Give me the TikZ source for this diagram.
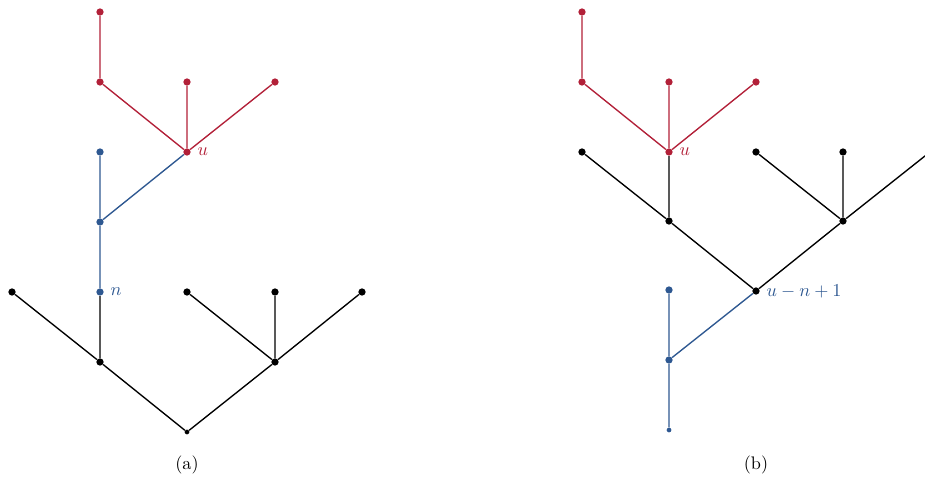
\documentclass[tikz,border=0pt]{standalone}
\definecolor{tred}{RGB}{178,32,56}
\definecolor{tblue}{RGB}{46,88,145}
\begin{document}
\begin{tikzpicture}[x=0.55pt,y=-0.55pt,
  edge/.style={line width=0.75pt},
  dot/.style={circle,fill,inner sep=0pt,minimum size=4pt},
  sdot/.style={circle,fill,inner sep=0pt,minimum size=2.6pt},
  lab/.style={anchor=west,inner sep=0pt,xshift=3.5pt}]
\useasboundingbox (0,0) rectangle (925,477);
\begin{scope}
\clip (0,0) rectangle (925,477);
% ---------- (a) ----------
\node[sdot] (r) at (187,432) {};
\node[dot] (a1) at (100,362) {};
\node[dot] (a2) at (275,362) {};
\node[dot] (l1) at (12,292) {};
\node[dot,tblue] (n) at (100,292) {};
\node[dot] (l3) at (187,292) {};
\node[dot] (l4) at (275,292) {};
\node[dot] (l5) at (362,292) {};
\node[dot,tblue] (b1) at (100,222) {};
\node[dot,tblue] (b2) at (100,152) {};
\node[dot,tred] (u) at (187,152) {};
\node[dot,tred] (c1) at (100,82) {};
\node[dot,tred] (c2) at (187,82) {};
\node[dot,tred] (c3) at (275,82) {};
\node[dot,tred] (c4) at (100,12) {};
\draw[edge] (r)--(a1) (r)--(a2) (a1)--(l1) (a1)--(n) (a2)--(l3) (a2)--(l4) (a2)--(l5);
\draw[edge,tblue] (n)--(b1) (b1)--(b2) (b1)--(u);
\draw[edge,tred] (u)--(c1) (u)--(c2) (u)--(c3) (c1)--(c4);
\node[lab,tblue] at (n.east) {$n$};
\node[lab,tred] at (u.east) {$u$};
\node (capa) at (187,465) {(a)};
% ---------- (b) ----------
\node[sdot,tblue] (br) at (669,430) {};
\node[dot,tblue] (bb1) at (669,360) {};
\node[dot,tblue] (bb2) at (669,290) {};
\node[dot] (m) at (756,291) {};
\node[dot] (d1) at (669,221) {};
\node[dot] (d2) at (843,221) {};
\node[dot] (e1) at (582,152) {};
\node[dot,tred] (bu) at (669,152) {};
\node[dot] (e3) at (756,152) {};
\node[dot] (e4) at (843,152) {};
\coordinate (e5) at (930,152);
\node[dot,tred] (f1) at (582,82) {};
\node[dot,tred] (f2) at (669,82) {};
\node[dot,tred] (f3) at (756,82) {};
\node[dot,tred] (f4) at (582,12) {};
\draw[edge,tblue] (br)--(bb1) (bb1)--(bb2) (bb1)--(m);
\draw[edge] (m)--(d1) (m)--(d2) (d1)--(e1) (d1)--(bu) (d2)--(e3) (d2)--(e4) (d2)--(e5);
\draw[edge,tred] (bu)--(f1) (bu)--(f2) (bu)--(f3) (f1)--(f4);
\node[lab,tred] at (bu.east) {$u$};
\node[lab,tblue] at (m.east) {$u-n+1$};
\node (capb) at (756,465) {(b)};
\end{scope}
\end{tikzpicture}
\end{document}
